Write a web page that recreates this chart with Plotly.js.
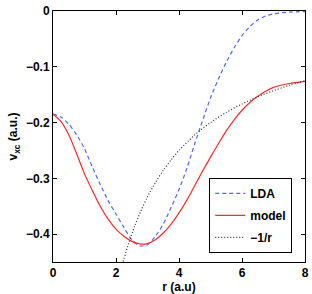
<!DOCTYPE html>
<html><head><meta charset="utf-8">
<script src="https://cdn.plot.ly/plotly-3.0.1.min.js"></script>
<style>body{margin:0;padding:0;background:#fff}#c{width:312px;height:294px}</style>
</head><body><div id="c"></div>
<script>
var rLDA = [0,0.25,0.5,0.75,1.0,1.25,1.5,1.75,2.0,2.25,2.5,2.75,3.0,3.25,3.5,3.75,4.0,4.25,4.5,4.75,5.0,5.25,5.5,5.75,6.0,6.25,6.5,6.75,7.0,7.5,8.0];
var vLDA = [-0.185,-0.190,-0.203,-0.222,-0.247,-0.280,-0.311,-0.340,-0.364,-0.388,-0.410,-0.421,-0.419,-0.404,-0.382,-0.352,-0.320,-0.282,-0.238,-0.196,-0.156,-0.122,-0.092,-0.066,-0.044,-0.028,-0.016,-0.009,-0.005,-0.002,-0.001];
var rModel = [0,0.25,0.5,0.75,1.0,1.25,1.5,1.75,2.0,2.25,2.5,2.75,3.0,3.25,3.5,3.75,4.0,4.25,4.5,4.75,5.0,5.25,5.5,5.75,6.0,6.25,6.5,6.75,7.0,7.5,8.0];
var vModel = [-0.185,-0.198,-0.222,-0.256,-0.292,-0.322,-0.350,-0.373,-0.391,-0.404,-0.413,-0.4175,-0.417,-0.410,-0.398,-0.382,-0.362,-0.339,-0.313,-0.287,-0.262,-0.238,-0.215,-0.195,-0.178,-0.164,-0.153,-0.144,-0.137,-0.130,-0.126];
var rInv = [2.2,2.4,2.6,2.8,3.0,3.25,3.5,3.75,4.0,4.5,5.0,5.5,6.0,6.5,7.0,7.5,8.0];
var vInv = [-0.4545,-0.4167,-0.3846,-0.3571,-0.3333,-0.3077,-0.2857,-0.2667,-0.25,-0.2222,-0.2,-0.1818,-0.1667,-0.1538,-0.1429,-0.1333,-0.125];
var names = ['LDA','model','\u22121/r'];
var xTicks = [0,2,4,6,8];
var yTicks = [0,-0.1,-0.2,-0.3,-0.4];
var yTickText = ['0','\u22120.1','\u22120.2','\u22120.3','\u22120.4'];

var traces = [
 {x:rLDA,y:vLDA,name:names[0],mode:'lines',line:{color:'#4a6cf0',width:1.2,dash:'4px,3px',shape:'spline',smoothing:0.8},legendgroup:'a'},
 {x:rModel,y:vModel,name:names[1],mode:'lines',line:{color:'#ff2a2a',width:1.2,shape:'spline',smoothing:0.8},legendgroup:'b'},
 {x:rInv,y:vInv,name:names[2],mode:'lines',line:{color:'#333333',width:1.2,dash:'1px,2px',shape:'spline',smoothing:0.8},legendgroup:'c'}
];
var tf = {family:'Liberation Sans, Arial, sans-serif',size:12,color:'#000',weight:'bold'};
var layout = {
 width:312,height:294,
 margin:{l:53,r:7,t:11,b:32},
 paper_bgcolor:'#fff',plot_bgcolor:'#fff',
 font:tf,
 showlegend:true,
 legend:{x:0.62,y:0.335,xanchor:'left',yanchor:'top',bgcolor:'#fff',bordercolor:'#000',borderwidth:1,font:tf,tracegroupgap:3,traceorder:'grouped'},
 xaxis:{range:[0,8],tickvals:xTicks,ticktext:xTicks.map(String),ticks:'inside',ticklen:4,tickcolor:'#000',showline:true,linecolor:'#000',linewidth:1,mirror:'ticks',showgrid:false,zeroline:false,tickfont:tf,
   title:{text:'r (a.u)',font:tf,standoff:2}},
 yaxis:{range:[-0.45,0],tickvals:yTicks,ticktext:yTickText,ticks:'inside',ticklen:4,tickcolor:'#000',showline:true,linecolor:'#000',linewidth:1,mirror:'ticks',showgrid:false,zeroline:false,tickfont:tf,
   title:{text:'v<sub>xc</sub> (a.u.)',font:tf,standoff:5}}
};
Plotly.newPlot('c',traces,layout,{displayModeBar:false,staticPlot:true});
</script></body></html>
